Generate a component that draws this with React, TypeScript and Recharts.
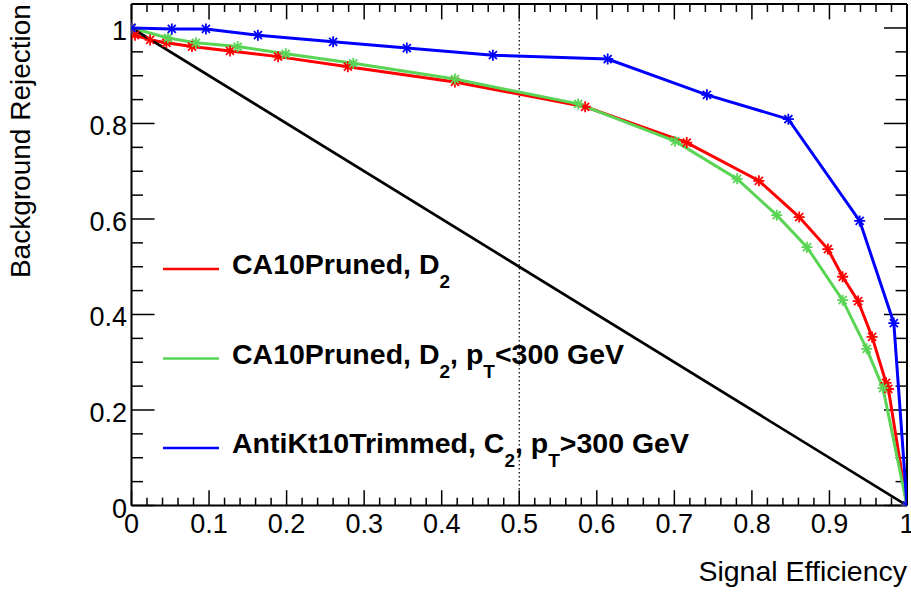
import React from "react";
import { LineChart, Line, XAxis, YAxis, Legend, ReferenceLine, Label } from "recharts";

const FONT = '"Liberation Sans", Arial, Helvetica, sans-serif';

// signal efficiency (x) / background rejection (y)
const caPrunedEff = [0, 0.0045, 0.024, 0.045, 0.078, 0.127, 0.189, 0.279, 0.417, 0.585, 0.716, 0.809, 0.861, 0.898, 0.917, 0.937, 0.955, 0.973, 0.976, 1];
const caPrunedRej = [1, 0.985, 0.975, 0.969, 0.961, 0.952, 0.94, 0.919, 0.887, 0.835, 0.76, 0.68, 0.604, 0.537, 0.479, 0.428, 0.353, 0.257, 0.244, 0];

const caPrunedLowEff = [0, 0.047, 0.083, 0.137, 0.199, 0.286, 0.417, 0.576, 0.701, 0.781, 0.832, 0.871, 0.917, 0.948, 0.969, 1];
const caPrunedLowRej = [1, 0.979, 0.969, 0.961, 0.946, 0.926, 0.893, 0.841, 0.763, 0.684, 0.608, 0.541, 0.43, 0.328, 0.246, 0];

const antiKtEff = [0, 0.052, 0.096, 0.163, 0.26, 0.355, 0.466, 0.614, 0.742, 0.847, 0.939, 0.983, 1];
const antiKtRej = [1, 0.998, 0.998, 0.985, 0.971, 0.958, 0.943, 0.935, 0.86, 0.809, 0.596, 0.382, 0];

// random-tagger reference
const diagEff = [0, 1];
const diagRej = [1, 0];

const SERIES_NAMES = [
  "CA10Pruned, D_{2}",
  "CA10Pruned, D_{2}, p_{T}<300 GeV",
  "AntiKt10Trimmed, C_{2}, p_{T}>300 GeV",
];

const X_TICKS = [0, 0.1, 0.2, 0.3, 0.4, 0.5, 0.6, 0.7, 0.8, 0.9, 1];
const Y_TICKS = [0, 0.2, 0.4, 0.6, 0.8, 1];
const X_MINOR = Array.from({ length: 51 }, (_, i) => +(i * 0.02).toFixed(2));
const Y_MINOR = Array.from({ length: 22 }, (_, i) => +(i * 0.05).toFixed(2));

const X_DOMAIN: [number, number] = [0, 1];
const Y_DOMAIN: [number, number] = [0, 1.05];

// ROOT-style inward tick lengths, as fractions of the other axis range
const X_TICK_MAJ = 0.0305;
const X_TICK_MIN = 0.0157;
const Y_TICK_MAJ = 0.0297;
const Y_TICK_MIN = 0.0148;

const isMajor = (v: number, list: number[]) => list.some((t) => Math.abs(t - v) < 1e-6);

const zip = (xs: number[], ys: number[]) => xs.map((x, i) => ({ x, y: ys[i] }));

const starDot = (color: string) => (props: any) => {
  const { cx, cy, index } = props;
  if (cx == null || cy == null) return <g key={index} />;
  const r = 5.5;
  const d = 4;
  return (
    <g key={index} stroke={color} strokeWidth={1.8}>
      <line x1={cx - r} y1={cy} x2={cx + r} y2={cy} />
      <line x1={cx} y1={cy - r} x2={cx} y2={cy + r} />
      <line x1={cx - d} y1={cy - d} x2={cx + d} y2={cy + d} />
      <line x1={cx - d} y1={cy + d} x2={cx + d} y2={cy - d} />
    </g>
  );
};

const XTick = (props: any) => {
  const { x, y, payload } = props;
  return (
    <text x={x} y={y + 27} textAnchor="middle" fontSize={27} fontFamily={FONT} fill="#000">
      {payload.value}
    </text>
  );
};

const YTick = (props: any) => {
  const { x, y, payload } = props;
  return (
    <text x={x - 4.5} y={y + 12} textAnchor="end" fontSize={27} fontFamily={FONT} fill="#000">
      {payload.value}
    </text>
  );
};

const XTitle = (props: any) => {
  const vb = props.viewBox || { x: 131.5, y: 505.5, width: 775.5 };
  return (
    <text x={vb.x + vb.width} y={vb.y + 75.5} textAnchor="end" fontSize={28.5} fontFamily={FONT} fill="#000">
      Signal Efficiency
    </text>
  );
};

const YTitle = (props: any) => {
  const vb = props.viewBox || { y: 4 };
  const x = 29.5;
  const y = vb.y;
  return (
    <text x={x} y={y} transform={`rotate(-90, ${x}, ${y})`} textAnchor="end" fontSize={28} fontFamily={FONT} fill="#000">
      Background Rejection
    </text>
  );
};

// "D_{2}" style names -> alternating normal / subscript parts
const LegendBox = (props: any) => {
  const items = (props.payload || [])
    .filter((p: any) => SERIES_NAMES.includes(p.value))
    .sort((a: any, b: any) => SERIES_NAMES.indexOf(a.value) - SERIES_NAMES.indexOf(b.value));
  return (
    <svg width={911} height={592} style={{ position: "absolute", left: 0, top: 0 }}>
      {items.map((item: any, row: number) => {
        const y = 269 + row * 89.5;
        const parts = String(item.value).split(/_\{([^}]*)\}/);
        return (
          <g key={item.value}>
            <line x1={163} x2={219} y1={y} y2={y} stroke={item.color} strokeWidth={2.5} />
            <text x={232} y={y + 5} fontSize={28.5} fontWeight="bold" fontFamily={FONT} fill="#000">
              {parts.map((p: string, i: number) =>
                i % 2 ? (
                  <tspan key={i} fontSize={19} dy={14}>{p}</tspan>
                ) : (
                  <tspan key={i} dy={i === 0 ? 0 : -14}>{p}</tspan>
                )
              )}
            </text>
          </g>
        );
      })}
    </svg>
  );
};

const tickProps = { xAxisId: "b", yAxisId: "l", stroke: "#000", strokeWidth: 1.5 };

export default function App() {
  const [y0, y1] = Y_DOMAIN;
  const [x0, x1] = X_DOMAIN;
  return (
    <div style={{ position: "absolute", left: 0, top: 0, background: "#fff" }}>
      <LineChart width={911} height={592} margin={{ top: 4.1, right: 4, bottom: 0, left: 0 }}>
        <XAxis
          xAxisId="b"
          type="number"
          dataKey="x"
          domain={X_DOMAIN}
          allowDataOverflow
          ticks={X_TICKS}
          interval={0}
          tickSize={0}
          tickMargin={0}
          tickLine={false}
          axisLine={{ stroke: "#000", strokeWidth: 2 }}
          height={86.5}
          tick={XTick}
        >
          <Label content={XTitle} />
        </XAxis>
        <YAxis
          yAxisId="l"
          type="number"
          domain={Y_DOMAIN}
          allowDataOverflow
          ticks={Y_TICKS}
          interval={0}
          tickSize={0}
          tickMargin={0}
          tickLine={false}
          axisLine={{ stroke: "#000", strokeWidth: 2 }}
          width={131.5}
          tick={YTick}
        >
          <Label content={YTitle} />
        </YAxis>

        {/* top and right frame */}
        <ReferenceLine xAxisId="b" yAxisId="l" y={y1} stroke="#000" strokeWidth={2} />
        <ReferenceLine xAxisId="b" yAxisId="l" x={x1} stroke="#000" strokeWidth={2} />

        {/* inward ticks on all four sides */}
        {X_MINOR.map((t) => {
          const len = (isMajor(t, X_TICKS) ? X_TICK_MAJ : X_TICK_MIN) * (y1 - y0);
          return (
            <React.Fragment key={`xt${t}`}>
              <ReferenceLine {...tickProps} segment={[{ x: t, y: y0 }, { x: t, y: y0 + len }]} />
              <ReferenceLine {...tickProps} segment={[{ x: t, y: y1 }, { x: t, y: y1 - len }]} />
            </React.Fragment>
          );
        })}
        {Y_MINOR.map((t) => {
          const len = (isMajor(t, Y_TICKS) ? Y_TICK_MAJ : Y_TICK_MIN) * (x1 - x0);
          return (
            <React.Fragment key={`yt${t}`}>
              <ReferenceLine {...tickProps} segment={[{ x: x0, y: t }, { x: x0 + len, y: t }]} />
              <ReferenceLine {...tickProps} segment={[{ x: x1, y: t }, { x: x1 - len, y: t }]} />
            </React.Fragment>
          );
        })}

        <ReferenceLine xAxisId="b" yAxisId="l" x={0.5} stroke="#000" strokeWidth={1.2} strokeDasharray="1.5 2.5" />

        <Line
          xAxisId="b"
          yAxisId="l"
          type="linear"
          data={zip(caPrunedEff, caPrunedRej)}
          dataKey="y"
          name={SERIES_NAMES[0]}
          stroke="#ff0000"
          strokeWidth={3}
          dot={starDot("#ff0000")}
          activeDot={false}
          isAnimationActive={false}
        />
        <Line
          xAxisId="b"
          yAxisId="l"
          type="linear"
          data={zip(caPrunedLowEff, caPrunedLowRej)}
          dataKey="y"
          name={SERIES_NAMES[1]}
          stroke="#59d454"
          strokeWidth={3}
          dot={starDot("#59d454")}
          activeDot={false}
          isAnimationActive={false}
        />
        <Line
          xAxisId="b"
          yAxisId="l"
          type="linear"
          data={zip(diagEff, diagRej)}
          dataKey="y"
          name="random"
          legendType="none"
          stroke="#000"
          strokeWidth={2.7}
          dot={false}
          activeDot={false}
          isAnimationActive={false}
        />
        <Line
          xAxisId="b"
          yAxisId="l"
          type="linear"
          data={zip(antiKtEff, antiKtRej)}
          dataKey="y"
          name={SERIES_NAMES[2]}
          stroke="#0000ff"
          strokeWidth={3}
          dot={starDot("#0000ff")}
          activeDot={false}
          isAnimationActive={false}
        />

        <Legend
          verticalAlign="middle"
          align="center"
          layout="horizontal"
          wrapperStyle={{ position: "absolute", left: 0, top: 0, width: 911, height: 592, pointerEvents: "none" }}
          content={LegendBox}
        />
      </LineChart>
    </div>
  );
}
